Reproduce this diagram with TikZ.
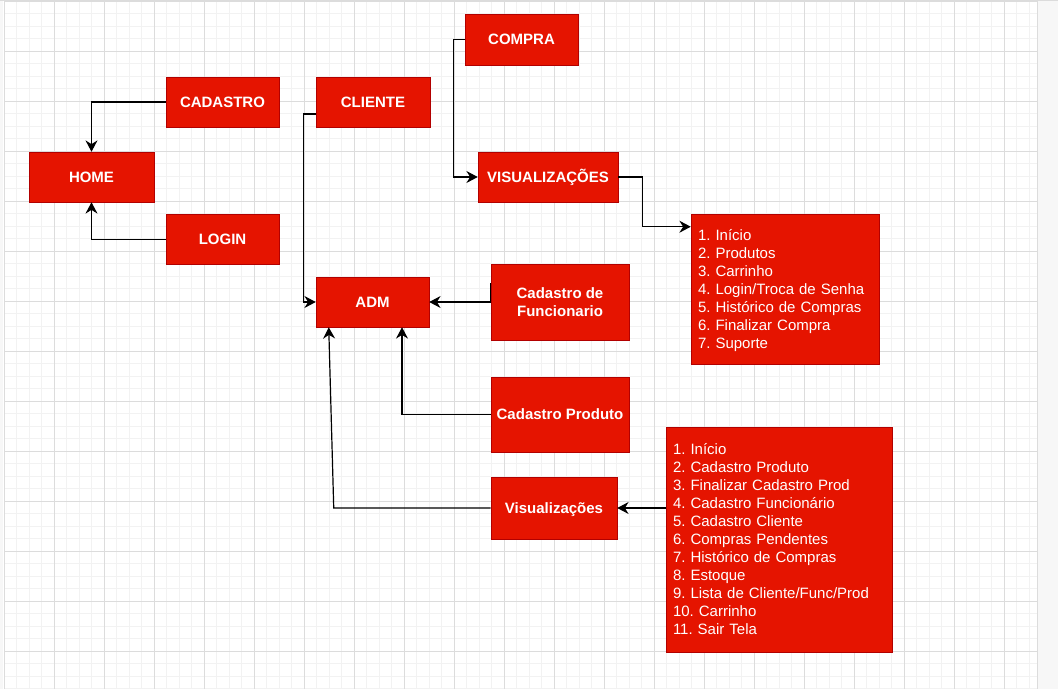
\documentclass[tikz,border=0pt]{standalone}
\usepackage{fontspec}
\setmainfont{Liberation Sans}
\usetikzlibrary{arrows.meta,calc}
\definecolor{boxred}{HTML}{E51400}
\definecolor{boxline}{HTML}{B20000}
\definecolor{gridminor}{HTML}{F2F2F2}
\definecolor{gridmajor}{HTML}{DCDCDC}
\definecolor{pagegray}{HTML}{F7F7F7}
\frenchspacing
\newcommand{\listtop}{\rule{0pt}{10.65pt}}
\newcommand{\listbot}{\rule[-2.85pt]{0pt}{2.85pt}}

\begin{document}
\begin{tikzpicture}[x=0.75pt, y=-0.75pt]
  \tikzstyle{tela}=[rectangle, draw=boxline, fill=boxred, text=white, inner sep=0pt,
    font=\fontsize{11.25pt}{13.5pt}\selectfont\bfseries, align=center]
  \tikzstyle{umalinha}=[text height=8.1pt, text depth=0pt]
  \tikzstyle{lista}=[rectangle, draw=boxline, fill=boxred, text=white, inner xsep=5.25pt,
    inner ysep=0pt, font=\fontsize{11.25pt}{13.5pt}\selectfont, align=left]
  \tikzstyle{seta}=[-{Stealth[length=8.5pt, width=9pt, inset=2.8pt]}, line width=0.9pt]

  % canvas
  \useasboundingbox (0,0) rectangle (1058,689);
  \fill[white] (0,0) rectangle (1058,689);
  \fill[pagegray] (1037,0) rectangle (1058,689);
  \fill[pagegray] (0,0) rectangle (3,689);
  \foreach \gx in {0,...,82} { \draw[gridminor, line width=0.75pt] (4+12.5*\gx,1) -- (4+12.5*\gx,689); }
  \foreach \gy in {0,...,55} { \draw[gridminor, line width=0.75pt] (4,1+12.5*\gy) -- (1037,1+12.5*\gy); }
  \foreach \gx in {0,...,20} { \draw[gridmajor, line width=0.75pt] (4+50*\gx,1) -- (4+50*\gx,689); }
  \foreach \gy in {0,...,13} { \draw[gridmajor, line width=0.75pt] (4,1+50*\gy) -- (1037,1+50*\gy); }
  \draw[gridmajor, line width=1pt] (0,0.5) -- (1058,0.5);
  \draw[gridmajor, line width=1pt] (1037.5,0) -- (1037.5,689);

  % telas
  \node[tela, umalinha, minimum width=93.75pt, minimum height=37.5pt] (home)     at (91.5,177)    {HOME};
  \node[tela, umalinha, minimum width=84.75pt, minimum height=37.5pt] (cadastro) at (222.5,102)   {CADASTRO};
  \node[tela, umalinha, minimum width=84.75pt, minimum height=37.5pt] (login)    at (222.5,239.5) {LOGIN};
  \node[tela, umalinha, minimum width=85.5pt,  minimum height=37.5pt] (cliente)  at (373,102)     {CLIENTE};
  \node[tela, umalinha, minimum width=84.75pt, minimum height=38pt]   (compra)   at (521.5,39.5)  {COMPRA};
  \node[tela, umalinha, minimum width=105pt,   minimum height=37.5pt] (viscli)   at (548,177)     {VISUALIZAÇÕES};
  \node[tela, umalinha, minimum width=84.75pt, minimum height=37.5pt] (adm)      at (372.5,302)   {ADM};
  \node[tela, minimum width=103.5pt, minimum height=57pt]             (cadfunc)  at (560,302)     {Cadastro de\\Funcionario};
  \node[tela, umalinha, minimum width=103.5pt, minimum height=56.25pt] (cadprod) at (560,414.5)   {Cadastro Produto};
  \node[tela, umalinha, minimum width=94.5pt,  minimum height=46.5pt] (visadm)   at (554,508)     {Visualizações};

  % listas
  \node[lista, text width=130.5pt, minimum height=112.5pt] (listcli) at (785,289) {%
    \listtop 1. Início\\2. Produtos\\3. Carrinho\\4. Login/Troca de Senha\\5. Histórico de Compras\\%
    6. Finalizar Compra\\7. Suporte\listbot};
  \node[lista, text width=159pt, minimum height=168.75pt] (listadm) at (779,539.5) {%
    \listtop 1. Início\\2. Cadastro Produto\\3. Finalizar Cadastro Prod\\4. Cadastro Funcionário\\%
    5. Cadastro Cliente\\6. Compras Pendentes\\7. Histórico de Compras\\8. Estoque\\%
    9. Lista de Cliente/Func/Prod\\10. Carrinho\\11. Sair Tela\listbot};

  % ligacoes
  \coordinate (cliout)  at ($(cliente.west)+(0,12)$);
  \coordinate (listin)  at ($(listcli.north west)+(0,13)$);
  \coordinate (funcout) at ($(cadfunc.west)+(0,-19)$);
  \coordinate (prodin)  at ($(adm.south)+(29.5,0)$);
  \coordinate (visin)   at ($(adm.south west)+(13,0)$);
  \coordinate (visturn) at ($(visadm.west)+(-157,0)$);

  \draw[seta] (cadastro.west) -| (home.north);
  \draw[seta] (login.west) -| (home.south);
  \draw[seta] (cliout) -- ++(-12,0) |- (adm.west);
  \draw[seta] (compra.west) -- ++(-11,0) |- (viscli.west);
  \draw[seta] (viscli.east) -- ++(24,0) |- (listin);
  \draw[seta] (funcout) -- (cadfunc.west) -- (adm.east);
  \draw[seta] (cadprod.west) -| (prodin);
  \draw[seta] (visadm.west) -- (visturn) -- (visin);
  \draw[seta] (listadm.west |- visadm.east) -- (visadm.east);
\end{tikzpicture}
\end{document}
